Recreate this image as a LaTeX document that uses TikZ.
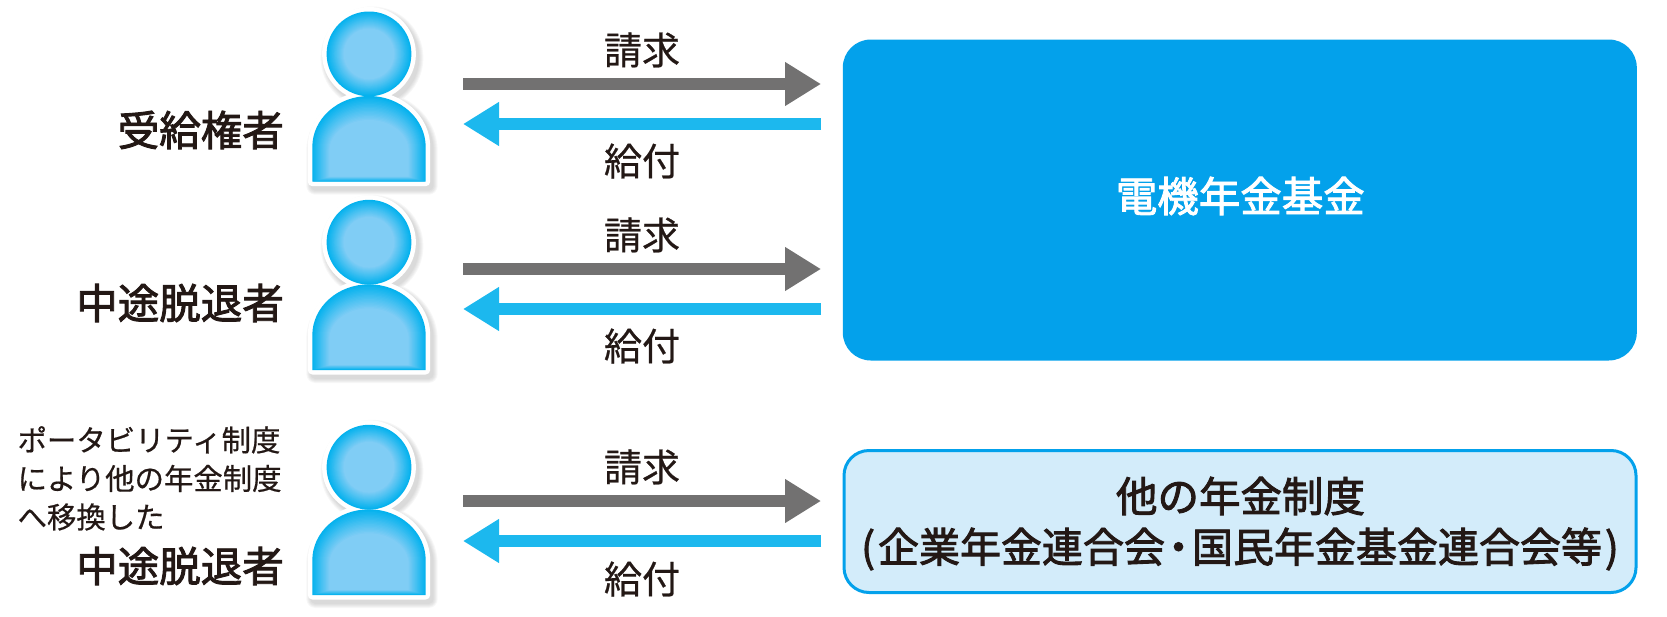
\documentclass[tikz,border=0pt]{standalone}
\usepackage{fontspec}
\usetikzlibrary{arrows.meta}
\setmainfont[FakeBold=0.6]{Noto Sans CJK JP}
\newfontfamily\heavyjp[FakeBold=2.2]{Noto Sans CJK JP}
\definecolor{inkc}{HTML}{231815}
\definecolor{greyarrow}{HTML}{727171}
\definecolor{bluearrow}{HTML}{1CB8EE}
\definecolor{fundblue}{HTML}{03A1EB}
\definecolor{palebox}{HTML}{D3ECFA}
\definecolor{persondeep}{HTML}{04B2EE}
\definecolor{personlight}{HTML}{80CDF5}
% outline of a person, relative to the top centre of the head
\def\personoutline{%
  (0,42.2) circle[radius=42.4]
  (-56.7,135.3) .. controls (-56.7,107) and (-31.3,84.3) .. (0,84.3)
  .. controls (31.3,84.3) and (56.7,107) .. (56.7,135.3)
  -- (56.7,170) -- (-56.7,170) -- cycle}
\tikzset{
  x=1pt,y=-1pt,
  person/.pic={
    \foreach \w in {18,16,14,12,10}
      \draw[black,opacity=.03,line width=\w pt,line join=round,shift={(3,4)}] \personoutline;
    \draw[white,fill=white,line width=9pt,line join=round] \personoutline;
    \foreach \k in {0,...,18}{
      \pgfmathsetmacro{\t}{\k/18}
      \pgfmathtruncatemacro{\p}{100*\t}
      \pgfmathsetmacro{\r}{42.4-17*\t}
      \fill[personlight!\p!persondeep] (0,42.2) circle[radius=\r];
      \pgfmathsetmacro{\rx}{56.7-17*\t}
      \pgfmathsetmacro{\tp}{84.3+24*\t}
      \pgfmathsetmacro{\bs}{135.3+4*\t}
      \pgfmathsetmacro{\bt}{170-5*\t}
      \pgfmathsetmacro{\ry}{\bs-\tp}
      \pgfmathsetmacro{\cx}{0.5523*\rx}
      \pgfmathsetmacro{\cy}{\bs-0.5523*\ry}
      \fill[personlight!\p!persondeep] (-\rx,\bs) .. controls (-\rx,\cy) and (-\cx,\tp) .. (0,\tp)
        .. controls (\cx,\tp) and (\rx,\cy) .. (\rx,\bs) -- (\rx,\bt) -- (-\rx,\bt) -- cycle;
    }
  },
  flowbase/.style={line width=12pt,-{Triangle[length=36pt,width=41.5pt]}},
  reqarrow/.style={flowbase,draw=greyarrow},
  payarrow/.style={flowbase,draw=bluearrow},
  flowlabel/.style={text=inkc,inner sep=0pt,font=\fontsize{38}{38}\selectfont},
  rolelabel/.style={text=inkc,inner sep=0pt,anchor=east,font=\fontsize{41.5}{41.5}\selectfont\heavyjp},
  notelabel/.style={text=inkc,inner sep=0pt,anchor=north west,align=left,font=\fontsize{29.4}{38.5}\selectfont},
  fundbox/.style={fill=fundblue,rounded corners=28pt,minimum width=794pt,minimum height=321pt,inner sep=0pt},
  otherbox/.style={draw=fundblue,fill=palebox,line width=3pt,rounded corners=25pt,minimum width=792pt,minimum height=142pt,inner sep=0pt},
  boxtext/.style={inner sep=0pt,font=\fontsize{41.5}{41.5}\selectfont\heavyjp},
}
\begin{document}
\begin{tikzpicture}[x=1pt,y=-1pt]
\useasboundingbox (0,0) rectangle (1667,616);
% people
\path (369,11.7) pic {person};
\path (369,200) pic {person};
\path (369,425) pic {person};
% role labels
\node[rolelabel] (roleA) at (284,130) {受給権者};
\node[rolelabel] (roleB) at (284,303) {中途脱退者};
\node[rolelabel] (roleC) at (284,566) {中途脱退者};
\node[notelabel] (note) at (17.4,426) {ポータビリティ制度\\により他の年金制度\\へ移換した};
% boxes
\node[fundbox] (fund) at (1239.8,200) {};
\node[boxtext,text=white] (fundtext) at (1240.3,196) {電機年金基金};
\node[otherbox] (other) at (1240,521.5) {};
\node[boxtext,text=inkc] (otherA) at (1240.5,496) {他の年金制度};
\node[boxtext,text=inkc,font=\fontsize{41}{41}\selectfont\heavyjp] (otherB) at (1240,549) {(\hspace{3pt}企業年金連合会\hspace{-7pt}・\hspace{-7pt}国民年金基金連合会等\hspace{3pt})};
% arrow end points
\coordinate (a1) at (463,84);   \coordinate (b1) at (821,84);
\coordinate (a2) at (821,124);  \coordinate (b2) at (463,124);
\coordinate (a3) at (463,269);  \coordinate (b3) at (821,269);
\coordinate (a4) at (821,309);  \coordinate (b4) at (463,309);
\coordinate (a5) at (463,501);  \coordinate (b5) at (821,501);
\coordinate (a6) at (821,541);  \coordinate (b6) at (463,541);
\draw[reqarrow] (a1) -- (b1);
\draw[payarrow] (a2) -- (b2);
\draw[reqarrow] (a3) -- (b3);
\draw[payarrow] (a4) -- (b4);
\draw[reqarrow] (a5) -- (b5);
\draw[payarrow] (a6) -- (b6);
% arrow labels
\node[flowlabel] (req1) at (642,50) {請求};
\node[flowlabel] (pay1) at (642,161) {給付};
\node[flowlabel] (req2) at (642,235) {請求};
\node[flowlabel] (pay2) at (642,346) {給付};
\node[flowlabel] (req3) at (642,467) {請求};
\node[flowlabel] (pay3) at (642,579) {給付};
\end{tikzpicture}
\end{document}
